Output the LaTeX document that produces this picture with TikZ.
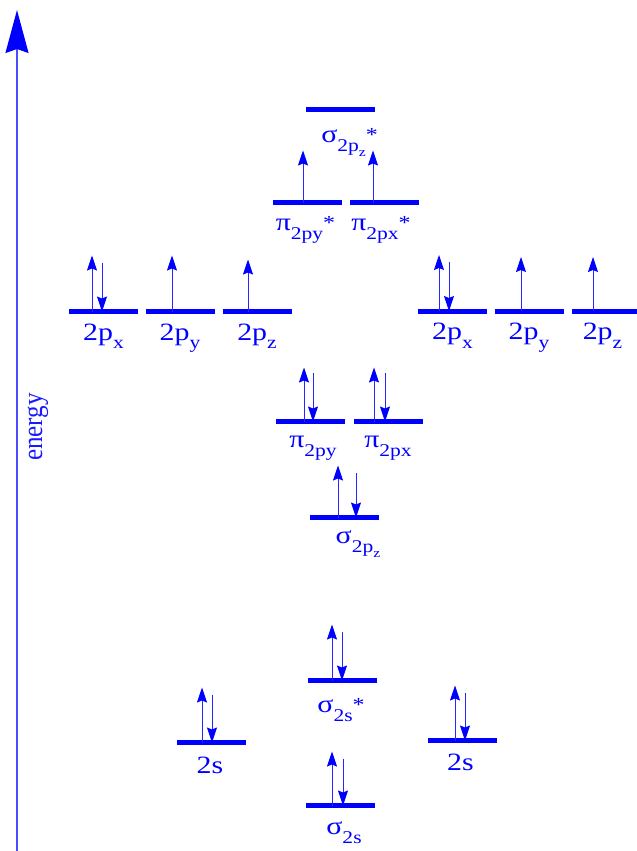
\documentclass[tikz,border=0pt]{standalone}
\usepackage{fontspec}
\setmainfont[FakeStretch=1.2]{Liberation Serif}
\usetikzlibrary{arrows.meta,positioning,calc}
\newcommand{\orbsub}[1]{\raisebox{-0.36em}{\fontsize{18}{18}\selectfont #1}}
\newcommand{\orbsubsub}[1]{\raisebox{-0.3em}{\fontsize{13}{13}\selectfont #1}}
\newcommand{\orbsup}[1]{\raisebox{0.06em}{\fontsize{20}{20}\selectfont #1}}

\begin{document}
\begin{tikzpicture}[x=1bp, y=-1bp,
  level/.style={fill=blue, minimum width=69bp, minimum height=5bp, inner sep=0pt, outer sep=0pt},
  lbl/.style={text=blue, font=\fontsize{25}{29}\selectfont, inner sep=0pt, anchor=base},
  spin/.style={draw=blue!85, line width=0.9bp, -{Stealth[length=15bp, width=10bp, inset=2bp, color=blue]}},
  axis/.style={draw=blue!70, line width=1.3bp, -{Stealth[length=43bp, width=23bp, inset=4bp, color=blue]}}
]
  \useasboundingbox (0,0) rectangle (637,851);

  \coordinate (axbot) at (17,851);
  \coordinate (axtop) at (17,10);
  \draw[axis] (axbot) -- (axtop);
  \node[text=blue!90, font=\fontsize{21}{25}\selectfont, rotate=90] (energy) at (38,427) {\scalebox{1}[1.35]{energy}};

  \node[level] (s2pzs) at (340.5,109) {};
  \node[level] (pi2pys) at (307.5,202.5) {};
  \node[level] (pi2pxs) at (384,202.5) {};
  \node[level] (l2px) at (103.5,311.5) {};
  \node[level] (l2py) at (180,311.5) {};
  \node[level] (l2pz) at (257,311.5) {};
  \node[level] (r2px) at (452.5,311) {};
  \node[level] (r2py) at (529,311) {};
  \node[level] (r2pz) at (606.5,311) {};
  \node[level] (pi2py) at (310.5,421.5) {};
  \node[level] (pi2px) at (388,421.5) {};
  \node[level] (s2pz) at (344.5,517.5) {};
  \node[level] (s2ss) at (342,680.5) {};
  \node[level] (l2s) at (211.5,742.5) {};
  \node[level] (r2s) at (462.5,740.5) {};
  \node[level] (s2s) at (340,805.5) {};

  \node[lbl] (s2pzs-t) at ($(s2pzs)+(9,33.5)$) {σ\orbsub{2p\orbsubsub{z}}\orbsup{*}};
  \node[lbl] (pi2pys-t) at ($(pi2pys)+(-2,28)$) {π\orbsub{2py}\orbsup{*}};
  \node[lbl] (pi2pxs-t) at ($(pi2pxs)+(-3,28)$) {π\orbsub{2px}\orbsup{*}};
  \node[lbl] (l2px-t) at ($(l2px)+(0,28.5)$) {2p\orbsub{x}};
  \node[lbl] (l2py-t) at ($(l2py)+(0,28.5)$) {2p\orbsub{y}};
  \node[lbl] (l2pz-t) at ($(l2pz)+(0,28.5)$) {2p\orbsub{z}};
  \node[lbl] (r2px-t) at ($(r2px)+(0,28.5)$) {2p\orbsub{x}};
  \node[lbl] (r2py-t) at ($(r2py)+(0,28.5)$) {2p\orbsub{y}};
  \node[lbl] (r2pz-t) at ($(r2pz)+(-4,28.5)$) {2p\orbsub{z}};
  \node[lbl] (pi2py-t) at ($(pi2py)+(2.5,26)$) {π\orbsub{2py}};
  \node[lbl] (pi2px-t) at ($(pi2px)+(0,26)$) {π\orbsub{2px}};
  \node[lbl] (s2pz-t) at ($(s2pz)+(13.5,26)$) {σ\orbsub{2p\orbsubsub{z}}};
  \node[lbl] (s2ss-t) at ($(s2ss)+(-1,32)$) {σ\orbsub{2s}\orbsup{*}};
  \node[lbl] (l2s-t) at ($(l2s)+(-1.5,30.5)$) {2s};
  \node[lbl] (r2s-t) at ($(r2s)+(-2,30)$) {2s};
  \node[lbl] (s2s-t) at ($(s2s)+(4,29)$) {σ\orbsub{2s}};

  \draw[spin] ($(pi2pys)+(-4.5,0)$) -- ++(0,-52);
  \draw[spin] ($(pi2pxs)+(-11,0)$) -- ++(0,-52);

  \draw[spin] ($(l2px)+(-11.5,0)$) -- ++(0,-56);
  \draw[spin] ($(l2px)+(-1.5,-49)$) -- ++(0,49);
  \draw[spin] ($(l2py)+(-8,0)$) -- ++(0,-56);
  \draw[spin] ($(l2pz)+(-9,0)$) -- ++(0,-52);
  \draw[spin] ($(r2px)+(-13.5,0)$) -- ++(0,-56);
  \draw[spin] ($(r2px)+(-3.5,-49)$) -- ++(0,49);
  \draw[spin] ($(r2py)+(-8,0)$) -- ++(0,-54);
  \draw[spin] ($(r2pz)+(-13.5,0)$) -- ++(0,-54);

  \draw[spin] ($(pi2py)+(-6.5,0)$) -- ++(0,-54);
  \draw[spin] ($(pi2py)+(2.5,-49)$) -- ++(0,49);
  \draw[spin] ($(pi2px)+(-14,0)$) -- ++(0,-54);
  \draw[spin] ($(pi2px)+(-3,-49)$) -- ++(0,49);
  \draw[spin] ($(s2pz)+(-6.5,0)$) -- ++(0,-52);
  \draw[spin] ($(s2pz)+(11.5,-45)$) -- ++(0,45);

  \draw[spin] ($(s2ss)+(-10,0)$) -- ++(0,-56);
  \draw[spin] ($(s2ss)+(0,-49)$) -- ++(0,49);
  \draw[spin] ($(l2s)+(-9.5,0)$) -- ++(0,-55);
  \draw[spin] ($(l2s)+(0.5,-48)$) -- ++(0,48);
  \draw[spin] ($(r2s)+(-7.5,0)$) -- ++(0,-55);
  \draw[spin] ($(r2s)+(2.5,-48)$) -- ++(0,48);
  \draw[spin] ($(s2s)+(-8,0)$) -- ++(0,-54);
  \draw[spin] ($(s2s)+(3,-47)$) -- ++(0,47);
\end{tikzpicture}
\end{document}
